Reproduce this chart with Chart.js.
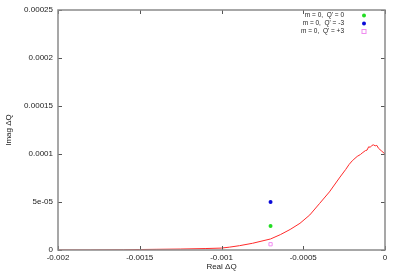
<!DOCTYPE html>
<html>
<head>
<meta charset="utf-8">
<script src="https://cdn.jsdelivr.net/npm/chart.js@4.4.1/dist/chart.umd.min.js"></script>
<style>
  html, body { margin: 0; padding: 0; background: #fff; }
</style>
</head>
<body>
<canvas id="chart" width="398" height="273"></canvas>
<script>
// growth-rate curve
const curveX = [-0.002, -0.0018, -0.0016, -0.0015, -0.0014, -0.00125, -0.0011, -0.001,
  -0.00095, -0.00089, -0.00081, -0.0007, -0.00064, -0.00058, -0.00052, -0.00046,
  -0.0004, -0.00034, -0.000275, -0.00024, -0.00022, -0.0002, -0.00019, -0.00017,
  -0.00015, -0.00014, -0.00012, -0.00011, -0.0001, -0.00009, -0.00008, -0.00007,
  -0.00006, -0.00005, -0.00004, -0.00002, 0];
const curveY = [0, 0, 0.2e-6, 0.5e-6, 0.7e-6, 1.0e-6, 1.5e-6, 2.0e-6,
  3.0e-6, 4.5e-6, 7.0e-6, 1.15e-5, 1.6e-5, 2.14e-5, 2.78e-5, 3.65e-5,
  4.85e-5, 6.05e-5, 7.6e-5, 8.4e-5, 8.9e-5, 9.3e-5, 9.45e-5, 9.75e-5,
  9.95e-5, 1.01e-4, 1.035e-4, 1.04e-4, 1.075e-4, 1.07e-4, 1.09e-4, 1.095e-4,
  1.085e-4, 1.09e-4, 1.06e-4, 1.03e-4, 1.0e-4];

// single-mode results
const pointX = [-0.0007, -0.0007, -0.0007];
const pointY = [2.5e-5, 5.0e-5, 6.0e-6];
const pointLabels = ["m = 0,  Q' = 0", "m = 0,  Q' = -3", "m = 0,  Q' = +3"];

const xTickLabels = ["-0.002", "-0.0015", "-0.001", "-0.0005", "0"];
const yTickLabels = ["0", "5e-05", "0.0001", "0.00015", "0.0002", "0.00025"];

const font = { family: "'Liberation Sans', Arial, sans-serif", size: 8 };

// gnuplot style box with inward ticks on all four sides
const frame = {
  id: 'frame',
  afterDatasetsDraw(chart) {
    const { ctx, chartArea: a, scales: { x, y } } = chart;
    ctx.save();
    ctx.strokeStyle = '#555';
    ctx.lineWidth = 1;
    ctx.beginPath();
    x.ticks.forEach(t => {
      const px = Math.round(x.getPixelForValue(t.value)) + 0.5;
      ctx.moveTo(px, a.bottom); ctx.lineTo(px, a.bottom - 4);
      ctx.moveTo(px, a.top); ctx.lineTo(px, a.top + 4);
    });
    y.ticks.forEach(t => {
      const py = Math.round(y.getPixelForValue(t.value)) + 0.5;
      ctx.moveTo(a.left, py); ctx.lineTo(a.left + 4, py);
      ctx.moveTo(a.right, py); ctx.lineTo(a.right - 4, py);
    });
    ctx.stroke();
    ctx.strokeStyle = '#8a8a8a';
    ctx.lineWidth = 1.5;
    ctx.strokeRect(a.left, a.top, a.right - a.left, a.bottom - a.top);
    ctx.restore();
  }
};

// key in the top right corner, text right aligned, symbol after it
const key = {
  id: 'key',
  afterDraw(chart) {
    const { ctx, chartArea: a } = chart;
    ctx.save();
    ctx.font = "6.5px 'Liberation Sans', Arial, sans-serif";
    ctx.fillStyle = '#222';
    ctx.textAlign = 'right';
    ctx.textBaseline = 'middle';
    chart.data.datasets.slice(1).forEach((ds, i) => {
      const ty = a.top + 5.5 + i * 8;
      const mx = a.right - 21;
      ctx.fillText(ds.label, a.right - 41, ty);
      if (ds.pointStyle === 'rect') {
        ctx.strokeStyle = ds.borderColor;
        ctx.lineWidth = 1;
        ctx.strokeRect(mx - 2, ty - 2, 4, 4);
      } else {
        ctx.fillStyle = ds.backgroundColor;
        ctx.beginPath();
        ctx.arc(mx, ty, 2, 0, Math.PI * 2);
        ctx.fill();
        ctx.fillStyle = '#222';
      }
    });
    ctx.restore();
  }
};

const colors = ['#22dd22', '#0a0ad8', '#f08cf0'];

new Chart(document.getElementById('chart'), {
  type: 'scatter',
  data: {
    datasets: [
      {
        label: 'curve',
        data: curveX.map((x, i) => ({ x: x, y: curveY[i] })),
        showLine: true,
        borderColor: '#ff2a2a',
        borderWidth: 1,
        pointRadius: 0,
        tension: 0
      },
      ...pointX.map((x, i) => ({
        label: pointLabels[i],
        data: [{ x: x, y: pointY[i] }],
        pointStyle: i === 2 ? 'rect' : 'circle',
        pointRadius: i === 2 ? 2.3 : 2,
        backgroundColor: i === 2 ? 'rgba(0,0,0,0)' : colors[i],
        borderColor: colors[i],
        borderWidth: i === 2 ? 1 : 0
      }))
    ]
  },
  options: {
    responsive: false,
    animation: false,
    layout: { padding: { top: 10, right: 13, left: 0, bottom: 0 } },
    plugins: { legend: { display: false }, tooltip: { enabled: false } },
    scales: {
      x: {
        type: 'linear',
        min: -0.002,
        max: 0,
        grid: { display: false, drawTicks: false },
        border: { display: false },
        ticks: {
          stepSize: 0.0005,
          autoSkip: false,
          maxRotation: 0,
          font: font,
          color: '#222',
          padding: 3,
          callback: (v, i) => xTickLabels[i]
        },
        title: { display: true, text: 'Real ΔQ', font: font, color: '#222', padding: { top: 0, bottom: 1 } },
        afterFit(s) { s.height = 23; }
      },
      y: {
        min: 0,
        max: 0.00025,
        grid: { display: false, drawTicks: false },
        border: { display: false },
        ticks: {
          stepSize: 0.00005,
          autoSkip: false,
          font: font,
          color: '#222',
          padding: 5,
          callback: (v, i) => yTickLabels[i]
        },
        title: { display: true, text: 'Imag ΔQ', font: font, color: '#222', padding: { top: 4, bottom: 0 } },
        afterFit(s) { s.width = 58; }
      }
    }
  },
  plugins: [frame, key]
});
</script>
</body>
</html>
